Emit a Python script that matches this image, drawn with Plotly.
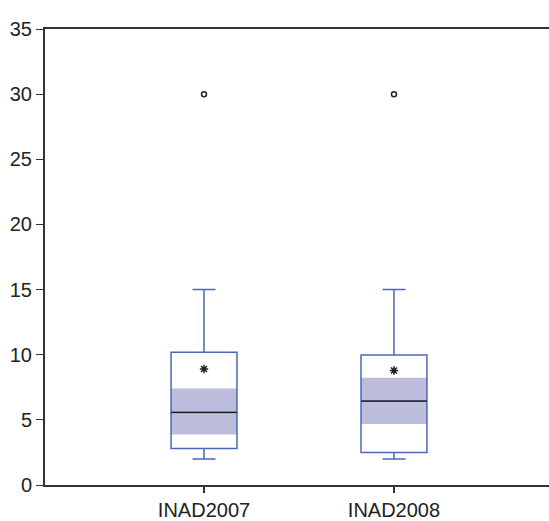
import plotly.graph_objects as go

# Series names and summary statistics for each box
categories = ["INAD2007", "INAD2008"]
positions = [1, 2]
q1 = [2.8, 2.5]
median = [5.57, 6.44]
q3 = [10.18, 9.98]
lower_whisker = [2.0, 2.0]
upper_whisker = [15.0, 15.0]
mean = [8.9, 8.79]
ci_low = [3.87, 4.69]
ci_high = [7.41, 8.23]
outliers = [30.0, 30.0]

y_ticks = [0, 5, 10, 15, 20, 25, 30, 35]

BOX_W = 0.347
BOX_LINE = "#4a68b4"
SHADE = "#bdbddd"
FONT = "Liberation Sans Narrow, Arial Narrow, Liberation Sans, Arial, sans-serif"

fig = go.Figure()

# shaded median confidence band
fig.add_trace(go.Bar(
    x=positions,
    base=ci_low,
    y=[h - l for h, l in zip(ci_high, ci_low)],
    width=BOX_W,
    marker=dict(color=SHADE, line=dict(width=0)),
    hoverinfo="skip",
    showlegend=False,
))

# box, whiskers and caps
for i, p in enumerate(positions):
    fig.add_trace(go.Box(
        x=[p],
        q1=[q1[i]],
        median=[median[i]],
        q3=[q3[i]],
        lowerfence=[lower_whisker[i]],
        upperfence=[upper_whisker[i]],
        width=BOX_W,
        whiskerwidth=0.35,
        fillcolor="rgba(0,0,0,0)",
        line=dict(color=BOX_LINE, width=1.5),
        showlegend=False,
        boxpoints=False,
    ))

# black median lines
mx, my = [], []
for p, m in zip(positions, median):
    mx += [p - BOX_W / 2, p + BOX_W / 2, None]
    my += [m, m, None]
fig.add_trace(go.Scatter(
    x=mx, y=my, mode="lines",
    line=dict(color="#1a1a1a", width=1.3),
    showlegend=False, hoverinfo="skip",
))

# means
fig.add_trace(go.Scatter(
    x=positions, y=mean, mode="markers",
    marker=dict(symbol="asterisk-open", size=7, color="#222",
                line=dict(color="#222", width=1.5)),
    showlegend=False,
))

# outliers
fig.add_trace(go.Scatter(
    x=positions, y=outliers, mode="markers",
    marker=dict(symbol="circle-open", size=5, color="#222",
                line=dict(color="#222", width=1.5)),
    showlegend=False,
))

fig.update_layout(
    width=549,
    height=521,
    margin=dict(l=45, r=0, t=29, b=36),
    paper_bgcolor="white",
    plot_bgcolor="white",
    font=dict(family=FONT, color="#222"),
    barmode="overlay",
    xaxis=dict(
        range=[0.163, 2.816],
        tickvals=positions,
        ticktext=categories,
        ticks="outside",
        ticklen=6,
        tickwidth=1.5,
        tickcolor="#333",
        tickfont=dict(size=20, family=FONT, color="#222"),
        showline=True,
        linecolor="#333",
        linewidth=2,
        mirror=True,
        showgrid=False,
        zeroline=False,
        automargin=False,
    ),
    yaxis=dict(
        range=[0, 35],
        tickvals=y_ticks,
        ticks="outside",
        ticklen=7,
        tickwidth=1.2,
        tickcolor="#333",
        tickfont=dict(size=20, family=FONT, color="#222"),
        showline=True,
        linecolor="#333",
        linewidth=2,
        showgrid=False,
        zeroline=False,
        automargin=False,
    ),
)

fig.write_html("out.html")
